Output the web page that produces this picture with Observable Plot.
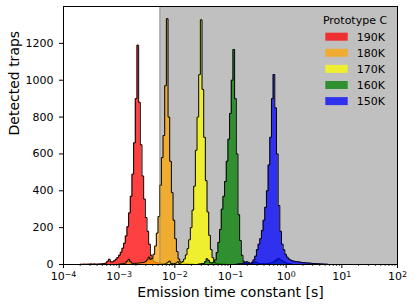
<!DOCTYPE html>
<html><head><meta charset="utf-8">
<script src="https://cdn.jsdelivr.net/npm/d3@7"></script>
<script src="https://cdn.jsdelivr.net/npm/@observablehq/plot@0.6"></script>
<style>
body{margin:0;background:#fff;}
#wrap{width:415px;height:308px;}
</style></head><body><div id="wrap"></div>
<script>
// ---- data ----
const legendTitle = "Prototype C";
const seriesLabels = ["190K", "180K", "170K", "160K", "150K"];
const seriesColors = ["red", "orange", "yellow", "green", "blue"];
const binWidthDecades = 0.03; // log10 width of each histogram bin
const binStart190 = -3.70;
const counts190 = [1,1,2,1,2,2,3,2,3,2, 2,3,3,4,5,8,18,28,14,14,20,28,38,50,66,88,115,155,205,280,370,490,660,900,1190,880,650,480,355,255,180,110,50,25,15,10,8,7,6,5,4,4,3,3,2,2,1];
const binStart180 = -3.022;
const counts180 = [2,3,4,5,8,18,28,15,7,6,6,7,8,9,10,12,15,25,40,28,32,55,100,170,260,430,580,700,970,1334,800,560,390,240,140,70,30,15,10,8,6,5,4,3,3,2];
const binStart170 = -2.2015;
const counts170 = [2,4,12,18,6,4,5,8,15,6,9,16,30,52,86,134,200,295,425,620,800,1030,1328,950,690,455,285,158,81,37,12,6,4,3,3,2,2,1];
const binStart160 = -1.586;
const counts160 = [2,3,4,6,15,31,22,10,8,12,25,65,120,190,300,370,450,560,680,820,1000,1167,900,600,270,130,50,18,8,5,4,4,6,10,14,10,6,5,4,4,4,5,6,8,10,14,20,28,32,25,20,15,10,7,5,3,2];
const binStart150 = -0.894;
const counts150 = [2,3,4,6,8,12,15,10,6,12,25,45,80,110,140,185,240,310,400,540,690,900,1031,850,600,320,180,110,80,55,40,30,24,20,18,16,15,14,12,11,10,9,8,8,7,6,5,5,4,4,3,3,2,2,1];
const shadedRange = [5.4e-3, 1e2];
const xMajorTicks = [1e-4, 1e-3, 1e-2, 1e-1, 1e0, 1e1, 1e2];
const xTickExponents = ["\u22124", "\u22123", "\u22122", "\u22121", "0", "1", "2"];
const yTicks = [0, 200, 400, 600, 800, 1000, 1200];
const xLabel = "Emission time constant [s]";
const yLabel = "Detected traps";

const starts = [binStart190, binStart180, binStart170, binStart160, binStart150];
const countsList = [counts190, counts180, counts170, counts160, counts150];

function histPoints(start, counts) {
  const w = binWidthDecades;
  const pts = [{x: 10 ** start, y: 0}];
  counts.forEach((c, i) => {
    pts.push({x: 10 ** (start + i * w), y: c});
    pts.push({x: 10 ** (start + (i + 1) * w), y: c});
  });
  pts.push({x: 10 ** (start + counts.length * w), y: 0});
  return pts;
}

const minorTicks = [];
for (let k = -4; k < 2; k++) for (let m = 2; m <= 9; m++) minorTicks.push(m * 10 ** k);

const histMarks = [];
seriesLabels.forEach((s, i) => {
  const pts = histPoints(starts[i], countsList[i]);
  histMarks.push(Plot.area(pts, {x1: "x", y1: 0, y2: "y", fill: seriesColors[i], fillOpacity: 0.75}));
  histMarks.push(Plot.line(pts, {x: "x", y: "y", stroke: "black", strokeWidth: 1}));
});

const font = "DejaVu Sans";
const chart = Plot.plot({
  width: 415, height: 308,
  marginLeft: 63, marginRight: 18, marginTop: 6, marginBottom: 44,
  style: {fontFamily: font, fontSize: "11px", color: "black", background: "white"},
  x: {type: "log", domain: [1e-4, 1e2]},
  y: {domain: [0, 1400]},
  marks: [
    Plot.rect([shadedRange], {x1: d => d[0], x2: d => d[1], fill: "#c0c0c0"}),
    ...histMarks,
    Plot.ruleX([shadedRange[0]], {stroke: "#888", strokeOpacity: 0.8, strokeWidth: 1}),
    Plot.frame({stroke: "black", strokeWidth: 1}),
    Plot.axisY({ticks: yTicks, tickSize: 4, tickPadding: 6, label: null, tickFormat: d => String(d)}),
    Plot.axisX({ticks: xMajorTicks, tickSize: 4, tickPadding: 4, label: null, tickFormat: (d, i) => "10" + xTickExponents[i], ariaLabel: "x-major"}),
    Plot.axisX({ticks: minorTicks, tickSize: 2, strokeWidth: 0.7, label: null, tickFormat: () => ""}),
    Plot.text([xLabel], {text: d => d, frameAnchor: "bottom", lineAnchor: "middle", dy: 28.5, fontSize: 14}),
    Plot.text([yLabel], {text: d => d, frameAnchor: "left", lineAnchor: "middle", rotate: -90, dx: -49, fontSize: 14})
  ]
});
document.getElementById("wrap").appendChild(chart);

// superscript exponents on log tick labels
const svg = d3.select(chart);
svg.selectAll('g[aria-label="x-major tick label"] text').each(function(d, i) {
  const t = d3.select(this);
  t.text(null);
  t.append("tspan").text("10");
  t.append("tspan").attr("dy", "-0.45em").attr("font-size", "0.72em").text(xTickExponents[i]);
});

// legend (inside plot area, upper right)
const lg = svg.append("g").attr("font-family", font).attr("font-size", 11).attr("fill", "black");
lg.append("text").attr("x", 355).attr("y", 24).attr("text-anchor", "middle").text(legendTitle);
seriesLabels.forEach((s, i) => {
  const cy = 36.7 + i * 16.1;
  lg.append("rect").attr("x", 325.3).attr("y", cy - 4).attr("width", 22.4).attr("height", 8)
    .attr("fill", seriesColors[i]).attr("fill-opacity", 0.75);
  lg.append("text").attr("x", 356.7).attr("y", cy + 4).attr("text-anchor", "start").text(s);
});
</script></body></html>
